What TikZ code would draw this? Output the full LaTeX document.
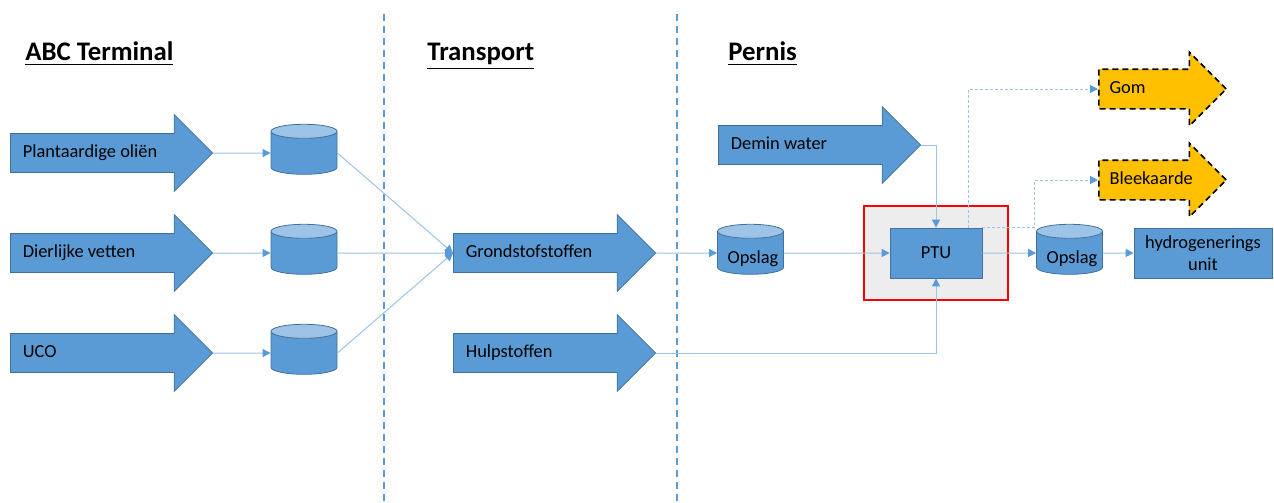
\documentclass[tikz,border=0pt]{standalone}
\usepackage{fontspec}
\setmainfont{Carlito}
\usetikzlibrary{arrows.meta,positioning,shapes.geometric,shapes.arrows,calc,fit,backgrounds}

\definecolor{boxblue}{HTML}{5B9BD5}
\definecolor{edgeblue}{HTML}{41719C}
\definecolor{lineblue}{HTML}{9DC3E6}
\definecolor{tankcap}{HTML}{9DC3E6}
\definecolor{wastegold}{HTML}{FFC000}
\definecolor{ptugrey}{HTML}{EDEDED}
\definecolor{ptured}{HTML}{FF0000}

\begin{document}
\begin{tikzpicture}[
    x=0.5pt, y=-0.5pt,
    lbl/.style={font=\fontsize{9.2}{11}\selectfont, text=black},
    head_lbl/.style={font=\fontsize{13.4}{15}\selectfont\bfseries, text=black, inner sep=0pt},
    flow_arrow/.style={single arrow, lbl, fill=boxblue, draw=edgeblue, line width=0.4pt, single arrow head extend=9.5pt, inner xsep=6pt, inner ysep=5.25pt, text height=6.5pt, text depth=2pt, text width=79pt, align=flush left, anchor=tail},
    waste_arrow/.style={flow_arrow, fill=wastegold, draw=black, line width=0.8pt, dash pattern=on 3pt off 2pt, single arrow head extend=8.5pt, inner xsep=5pt, text width=43pt},
    tank_node/.style={cylinder, shape border rotate=90, aspect=0.25, lbl, text width=28pt, align=center, text height=6.5pt, text depth=2pt, minimum width=33pt, minimum height=25pt, inner sep=0pt, cylinder uses custom fill, cylinder body fill=boxblue, cylinder end fill=tankcap, draw=edgeblue, line width=0.4pt},
    unit_node/.style={rectangle, lbl, fill=boxblue, draw=edgeblue, line width=0.4pt, align=center, inner sep=0pt},
    flow_line/.style={draw=lineblue, line width=0.5pt, -{Triangle[length=4pt,width=4pt,color=boxblue]}},
    waste_line/.style={flow_line, dash pattern=on 1.5pt off 1pt},
    sep_line/.style={draw=boxblue, line width=1pt, dash pattern=on 3.5pt off 2.5pt}
]
    \useasboundingbox (0,0) rectangle (1274,503);

    % Zone separators and titles
    \draw[sep_line] (384,14) -- (384,503);
    \draw[sep_line] (677,14) -- (677,503);
    \node[head_lbl, anchor=base west] (hABC) at (25,61) {\underline{ABC Terminal}};
    \node[head_lbl, anchor=base west] (hTransport) at (427,61) {\underline{Transport}};
    \node[head_lbl, anchor=base west] (hPernis) at (728,61) {\underline{Pernis}};

    % ABC Terminal feeds and tanks
    \node[flow_arrow] (plant) at (10,153) {Plantaardige oliën};
    \node[flow_arrow] (dier) at (10,253) {Dierlijke vetten};
    \node[flow_arrow] (uco) at (10,353) {UCO};
    \node[tank_node] (tankP) at (304,153) {};
    \node[tank_node] (tankD) at (304,253) {};
    \node[tank_node] (tankU) at (304,353) {};

    % Transport
    \node[flow_arrow] (grond) at (453,253) {Grondstofstoffen};
    \node[flow_arrow] (hulp) at (453,353) {Hulpstoffen};

    % Pernis
    \node[flow_arrow] (demin) at (718,145) {Demin water};
    \node[tank_node] (opslagA) at (750.5,253) {\hspace*{2.5pt}\raisebox{-3pt}{Opslag}};
    \node[unit_node, minimum width=46pt, minimum height=25pt] (ptu) at (936,253) {PTU};
    \begin{scope}[on background layer]
        \node[fit=(ptu), fill=ptugrey, draw=ptured, line width=1pt, inner xsep=13pt, inner ysep=11pt] (ptubox) {};
    \end{scope}
    \node[tank_node] (opslagB) at (1069.5,253) {\hspace*{2.5pt}\raisebox{-3pt}{Opslag}};
    \node[unit_node, minimum width=69pt, minimum height=25pt] (hydro) at (1203,253) {hydrogenerings\\unit};
    \node[waste_arrow] (gom) at (1098,89) {Gom};
    \node[waste_arrow] (bleek) at (1098,180) {Bleekaarde};

    % Connections
    \draw[flow_line] (plant.tip) -- (tankP.west);
    \draw[flow_line] (dier.tip) -- (tankD.west);
    \draw[flow_line] (uco.tip) -- (tankU.west);
    \draw[flow_line] (tankP.east) -- (grond.tail);
    \draw[flow_line] (tankD.east) -- (grond.tail);
    \draw[flow_line] (tankU.east) -- (grond.tail);
    \draw[flow_line] (grond.tip) -- (opslagA.west);
    \draw[flow_line] (opslagA.east) -- (ptu.west);
    \draw[flow_line] (demin.tip) -| (ptu.north);
    \draw[flow_line] (hulp.tip) -| (ptu.south);
    \draw[flow_line] (ptu.east) -- (opslagB.west);
    \draw[flow_line] (opslagB.east) -- (hydro.west);
    \draw[waste_line] ($(ptu.north east)+(-14,0)$) |- (gom.tail);
    \draw[waste_line] (ptu.north east) -- ++(52,0) |- (bleek.tail);
\end{tikzpicture}
\end{document}
